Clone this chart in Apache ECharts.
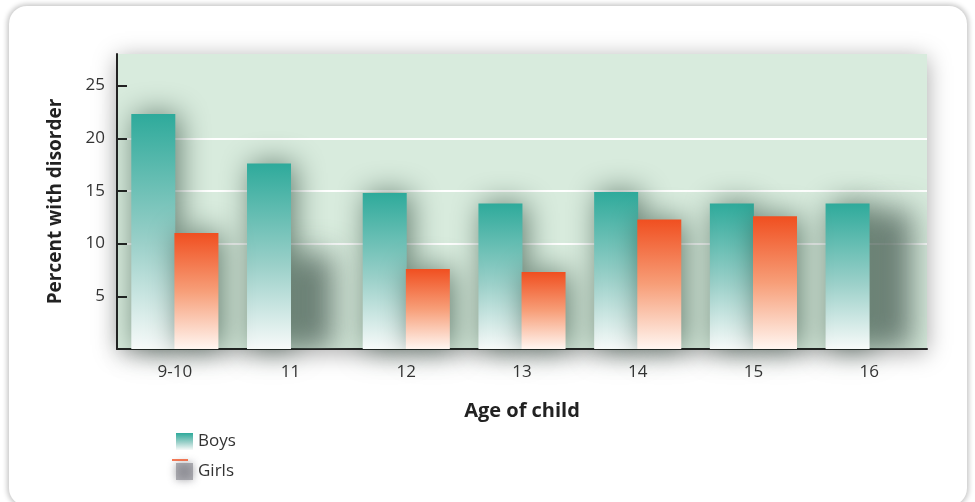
<!DOCTYPE html>
<html>
<head>
<meta charset="utf-8">
<script src="https://cdn.jsdelivr.net/npm/echarts@6/dist/echarts.min.js"></script>
<style>
  html, body { margin: 0; padding: 0; background: #ffffff; }
  #card {
    position: absolute; left: 9px; top: 6px; width: 958px; height: 500px;
    border-radius: 18px; background: #ffffff;
    box-shadow: 0 0 5px 2px rgba(0,0,0,0.22);
  }
  #chart { position: absolute; left: 0; top: 0; width: 975px; height: 502px; }
</style>
</head>
<body>
<div id="card"></div>
<div id="chart"></div>
<script>
// Prevalence of disorder by age and sex
const ages = ['9-10', '11', '12', '13', '14', '15', '16'];
const boys = [22.3, 17.6, 14.8, 13.8, 14.9, 13.8, 13.8];
const girls = [11.0, 9.0, 7.6, 7.3, 12.3, 12.6, 13.2];
// ages where the girls' bar shows only as a shadow
const girlsShadowOnly = ['11', '16'];
const yTicks = [5, 10, 15, 20, 25];

const FONT = '"Open Sans", "Noto Sans", sans-serif';
const BAR_W = 44;

const boysFill = new echarts.graphic.LinearGradient(0, 0, 0, 1, [
  { offset: 0, color: '#2eaa9b' },
  { offset: 0.55, color: '#9bd0c9' },
  { offset: 1, color: '#f7faf9' }
]);
const girlsFill = new echarts.graphic.LinearGradient(0, 0, 0, 1, [
  { offset: 0, color: '#f04f20' },
  { offset: 0.5, color: '#f79e78' },
  { offset: 1, color: '#fff6f1' }
]);

const barShadow = {
  shadowBlur: 30,
  shadowColor: 'rgba(20,50,35,0.6)',
  shadowOffsetX: 4,
  shadowOffsetY: 0
};

// solid girls bars, and the ages drawn as a soft shadow only
const girlsBars = girls.map((v, i) => girlsShadowOnly.includes(ages[i]) ? null : v);
const girlsShadows = girls
  .map((v, i) => [i, v])
  .filter(d => girlsShadowOnly.includes(ages[d[0]]));

// The rect itself is moved out of view; only its blurred shadow lands in the bar slot.
const SHIFT = 3000;
function renderShadowBar(params, api) {
  const top = api.coord([api.value(0), api.value(1)]);
  const base = api.coord([api.value(0), 0]);
  return {
    type: 'rect',
    shape: { x: top[0] - 1, y: top[1] - SHIFT, width: BAR_W, height: base[1] - top[1] },
    style: {
      fill: '#000',
      shadowBlur: 30,
      shadowColor: 'rgba(88,108,99,0.85)',
      shadowOffsetX: 0,
      shadowOffsetY: SHIFT
    }
  };
}

const chart = echarts.init(document.getElementById('chart'), null, { renderer: 'canvas' });
chart.setOption({
  animation: false,
  backgroundColor: 'transparent',
  textStyle: { fontFamily: FONT },
  grid: {
    left: 117, right: 48, top: 54, bottom: 153,
    show: true,
    backgroundColor: '#d8ebdd',
    borderWidth: 0,
    shadowBlur: 22,
    shadowColor: 'rgba(0,0,0,0.35)',
    shadowOffsetX: 0,
    shadowOffsetY: 4
  },
  legend: {
    orient: 'vertical',
    left: 171, top: 428,
    itemWidth: 17, itemHeight: 17, itemGap: 13,
    icon: 'rect',
    textStyle: { fontFamily: FONT, fontSize: 17, color: '#333' },
    data: [
      { name: 'Boys', itemStyle: { color: boysFill } },
      { name: 'Girls', itemStyle: { color: 'rgba(130,130,138,0.6)', shadowBlur: 9, shadowColor: 'rgba(90,90,100,0.9)' } }
    ]
  },
  xAxis: {
    type: 'category',
    data: ages,
    name: 'Age of child',
    nameLocation: 'middle',
    nameGap: 52,
    nameTextStyle: { fontFamily: FONT, fontSize: 20, fontWeight: 'bold', color: '#222' },
    axisLine: { lineStyle: { color: '#222', width: 2 } },
    axisTick: { show: false },
    axisLabel: { fontSize: 17, color: '#333', margin: 15 }
  },
  yAxis: {
    type: 'value',
    min: 0, max: 28, interval: 5,
    name: 'Percent with disorder',
    nameLocation: 'middle',
    nameGap: 52,
    nameTextStyle: { fontFamily: FONT, fontSize: 19, fontWeight: 'bold', color: '#222' },
    axisLine: { show: true, lineStyle: { color: '#222', width: 2 } },
    axisTick: { show: true, inside: true, length: 10, lineStyle: { color: '#222', width: 2 }, customValues: yTicks },
    axisLabel: { fontSize: 17, color: '#333', margin: 12, customValues: yTicks },
    splitLine: { show: true, showMinLine: false, showMaxLine: false, lineStyle: { color: '#ffffff', width: 2 } }
  },
  series: [
    {
      name: 'Girls shadow',
      type: 'custom',
      data: girlsShadows,
      renderItem: renderShadowBar,
      clip: true,
      silent: true,
      z: 1
    },
    {
      name: 'Boys',
      type: 'bar',
      data: boys,
      barWidth: BAR_W,
      barGap: '-2%',
      z: 2,
      itemStyle: Object.assign({ color: boysFill }, barShadow)
    },
    {
      name: 'Girls',
      type: 'bar',
      data: girlsBars,
      barWidth: BAR_W,
      z: 2,
      itemStyle: Object.assign({ color: girlsFill }, barShadow)
    }
  ],
  graphic: [
    {
      type: 'line',
      shape: { x1: 172, y1: 460, x2: 188, y2: 460 },
      style: { stroke: '#f04f20', lineWidth: 1.5 },
      z: 100
    }
  ]
});
</script>
</body>
</html>
